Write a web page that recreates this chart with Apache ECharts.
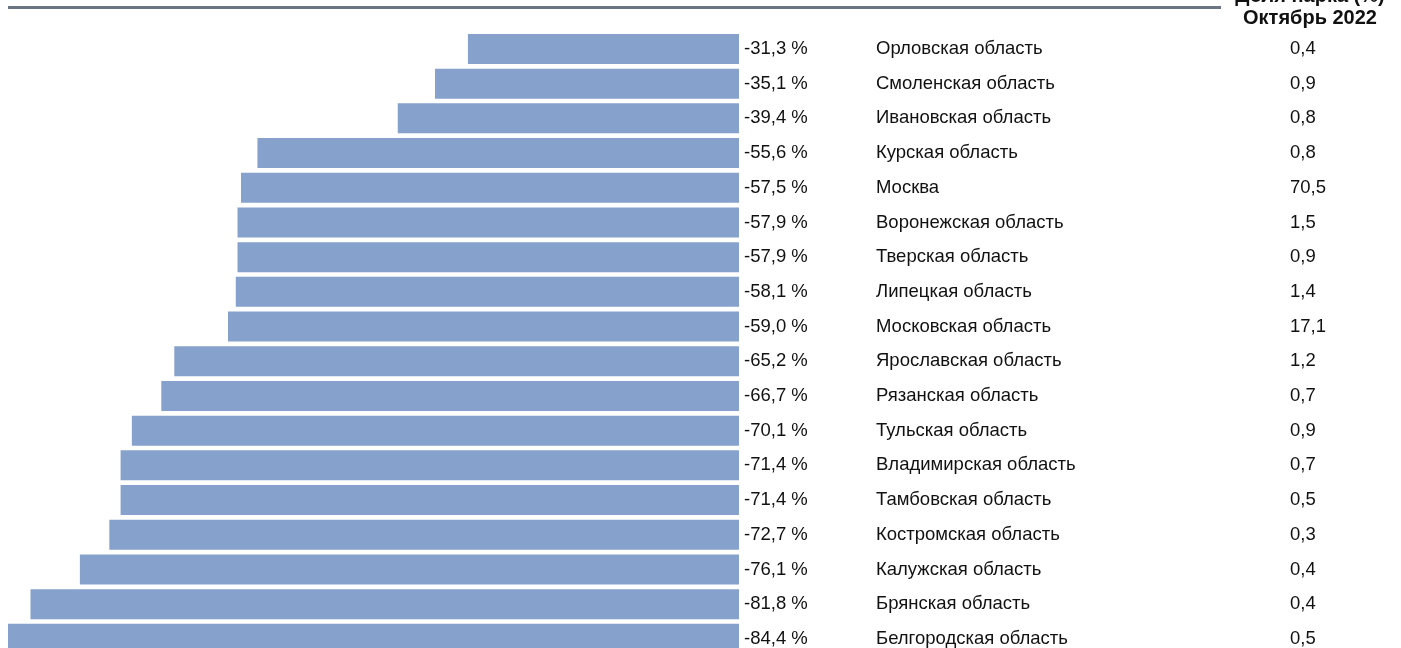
<!DOCTYPE html>
<html>
<head>
<meta charset="utf-8">
<script src="https://cdn.jsdelivr.net/npm/echarts@6/dist/echarts.min.js"></script>
<style>
  html, body { margin: 0; padding: 0; background: #fff; overflow: hidden; }
  #chart { width: 1401px; height: 660px; }
</style>
</head>
<body>
<div id="chart"></div>
<script>
// регионы и изменение (%)
var regions = ['Орловская область', 'Смоленская область', 'Ивановская область', 'Курская область', 'Москва',
  'Воронежская область', 'Тверская область', 'Липецкая область', 'Московская область', 'Ярославская область',
  'Рязанская область', 'Тульская область', 'Владимирская область', 'Тамбовская область', 'Костромская область',
  'Калужская область', 'Брянская область', 'Белгородская область'];
var changes = [-31.3, -35.1, -39.4, -55.6, -57.5, -57.9, -57.9, -58.1, -59.0, -65.2,
  -66.7, -70.1, -71.4, -71.4, -72.7, -76.1, -81.8, -84.4];
// доля парка (%) октябрь 2022
var shares = [0.4, 0.9, 0.8, 0.8, 70.5, 1.5, 0.9, 1.4, 17.1, 1.2, 0.7, 0.9, 0.7, 0.5, 0.3, 0.4, 0.4, 0.5];

function fmt(v) {
  return v.toFixed(1).replace('.', ',');
}

var chart = echarts.init(document.getElementById('chart'));
var font = 'Arial, "Liberation Sans", sans-serif';

var option = {
  backgroundColor: '#fff',
  animation: false,
  grid: {
    left: 8,
    right: 662,
    top: 31.6,
    height: 624.6
  },
  xAxis: {
    type: 'value',
    min: -84.4,
    max: 0,
    show: false
  },
  yAxis: [{
    type: 'category',
    data: regions,
    inverse: true,
    position: 'right',
    axisLine: { show: false },
    axisTick: { show: false },
    axisLabel: {
      margin: 137,
      align: 'left',
      color: '#111',
      fontSize: 18.5,
      fontFamily: font
    }
  }, {
    type: 'category',
    data: shares.map(fmt),
    inverse: true,
    position: 'right',
    offset: 551,
    axisLine: { show: false },
    axisTick: { show: false },
    axisLabel: {
      margin: 0,
      align: 'left',
      color: '#111',
      fontSize: 18.5,
      fontFamily: font
    }
  }],
  series: [{
    type: 'bar',
    data: changes,
    barWidth: 30,
    itemStyle: { color: '#86a1cb' },
    label: {
      show: true,
      position: 'right',
      distance: 5,
      color: '#111',
      fontSize: 18.5,
      fontFamily: font,
      formatter: function (p) { return fmt(p.value) + ' %'; }
    }
  }],
  graphic: [{
    type: 'rect',
    shape: { x: 8, y: 6, width: 1213, height: 3 },
    style: { fill: '#6b7481' }
  }, {
    type: 'text',
    x: 1310,
    y: -4,
    style: {
      text: 'Доля парка (%)',
      align: 'center',
      verticalAlign: 'middle',
      font: 'bold 20px ' + font,
      fill: '#111'
    }
  }, {
    type: 'text',
    x: 1310,
    y: 18,
    style: {
      text: 'Октябрь 2022',
      align: 'center',
      verticalAlign: 'middle',
      font: 'bold 20px ' + font,
      fill: '#111'
    }
  }]
};

chart.setOption(option);
</script>
</body>
</html>
